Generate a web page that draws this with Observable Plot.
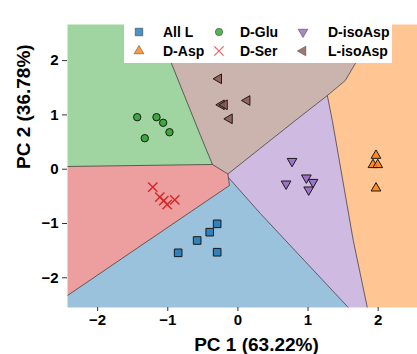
<!DOCTYPE html>
<html><head><meta charset="utf-8">
<script src="https://cdn.jsdelivr.net/npm/d3@7"></script>
<script src="https://cdn.jsdelivr.net/npm/@observablehq/plot@0.6"></script>
<style>
body{margin:0;background:#fff;overflow:hidden}
#wrap{position:relative;width:417px;height:354px;overflow:hidden}
#wrap > svg{max-width:none !important;width:445px !important;height:354px !important;display:block}
#legend{position:absolute;left:124px;top:23px;width:268px;height:40px;background:#fff;font:bold 14px "Liberation Sans",Arial,sans-serif;color:#000}
#legend svg{position:absolute}
#legend span{position:absolute;line-height:16px;white-space:nowrap}
</style></head><body><div id="wrap"><div id="legend"></div></div>
<script>
// ---- data ----
const classes = ["All L", "D-Asp", "D-Glu", "D-Ser", "D-isoAsp", "L-isoAsp"];
const colors = ["#1f77b4", "#ff7f0e", "#2ca02c", "#d62728", "#9467bd", "#8c564b"];
const xLabel = "PC 1 (63.22%)";
const yLabel = "PC 2 (36.78%)";
const xTicks = [-2, -1, 0, 1, 2];
const yTicks = [-2, -1, 0, 1, 2];
const xDomain = [-2.43, 2.96];
const yDomain = [-2.547, 2.665];

const ptsAllL = [[-0.296,-1.006],[-0.402,-1.160],[-0.581,-1.313],[-0.852,-1.540],[-0.296,-1.529]];
const ptsDAsp = [[1.969,0.252],[1.926,0.081],[1.994,0.081],[1.969,-0.350]];
const ptsDGlu = [[-1.436,0.958],[-1.161,0.958],[-1.066,0.855],[-0.976,0.681],[-1.328,0.571]];
const ptsDSer = [[-1.214,-0.331],[-1.114,-0.516],[-1.057,-0.577],[-1.009,-0.650],[-0.900,-0.564]];
const ptsDisoAsp = [[0.772,0.147],[0.976,-0.158],[1.071,-0.239],[0.687,-0.269],[1.009,-0.379]];
const ptsLisoAsp = [[-0.274,1.665],[-0.235,1.186],[-0.192,1.186],[0.131,1.265],[-0.121,0.928]];

// decision regions (vertices in PC units)
const regAllL = [[-2.43,-2.326],[-0.121,-0.300],[-0.135,-0.153],[0.32,-0.816],[1.574,-2.547],[-2.43,-2.547]];
const regDAsp = [[2.0,2.665],[2.96,2.665],[2.96,-2.547],[1.845,-2.547],[1.645,-1.313],[1.346,0.897],[1.275,1.357],[1.531,1.633],[1.674,1.946]];
const regDGlu = [[-2.43,2.665],[-1.175,2.665],[-0.947,1.946],[-0.534,0.621],[-0.363,0.087],[-2.43,0.050]];
const regDSer = [[-2.43,0.050],[-0.363,0.087],[-0.178,-0.061],[-0.142,-0.088],[-0.135,-0.153],[-0.121,-0.300],[-2.43,-2.326]];
const regDisoAsp = [[1.275,1.357],[1.346,0.897],[1.645,-1.313],[1.845,-2.547],[1.574,-2.547],[0.32,-0.816],[-0.135,-0.153],[-0.142,-0.088],[0.819,0.897]];
const regLisoAsp = [[-1.175,2.665],[2.0,2.665],[1.674,1.946],[1.531,1.633],[1.275,1.357],[0.819,0.897],[-0.142,-0.088],[-0.178,-0.061],[-0.363,0.087],[-0.534,0.621],[-0.947,1.946]];

// region boundaries
const boundaries = [
  [[-1.175,2.665],[-0.947,1.946],[-0.534,0.621],[-0.363,0.087]],
  [[-2.43,0.050],[-0.363,0.087]],
  [[-0.363,0.087],[-0.178,-0.061],[-0.142,-0.088]],
  [[-0.142,-0.088],[0.819,0.897],[1.275,1.357]],
  [[1.275,1.357],[1.531,1.633],[1.674,1.946],[2.0,2.665]],
  [[1.275,1.357],[1.346,0.897],[1.645,-1.313],[1.845,-2.547]],
  [[-0.142,-0.088],[-0.135,-0.153]],
  [[-0.135,-0.153],[0.32,-0.816],[1.574,-2.547]],
  [[-0.135,-0.153],[-0.121,-0.300],[-2.43,-2.326]]
];

// ---- symbols ----
const sqrt3 = Math.sqrt(3);
const triDown = {draw(ctx, size) { const y = -Math.sqrt(size / (sqrt3 * 3)); ctx.moveTo(0, -2 * y); ctx.lineTo(-sqrt3 * y, y); ctx.lineTo(sqrt3 * y, y); ctx.closePath(); }};
const triLeft = {draw(ctx, size) { const y = -Math.sqrt(size / (sqrt3 * 3)); ctx.moveTo(2 * y, 0); ctx.lineTo(-y, sqrt3 * y); ctx.lineTo(-y, -sqrt3 * y); ctx.closePath(); }};
const symbols = [d3.symbolSquare, d3.symbolTriangle, d3.symbolCircle, d3.symbolTimes, triDown, triLeft];
const radii = [4.3, 3.6, 3.7, 4.3, 3.6, 3.6];
const points = [ptsAllL, ptsDAsp, ptsDGlu, ptsDSer, ptsDisoAsp, ptsLisoAsp];
const regions = [regAllL, regDAsp, regDGlu, regDSer, regDisoAsp, regLisoAsp];

const X = d => d[0], Y = d => d[1];
const font = '"Liberation Sans", Arial, sans-serif';
const fmt = d3.format("d");

const plot = Plot.plot({
  width: 445, height: 354,
  marginLeft: 67, marginRight: 0, marginTop: 24, marginBottom: 47,
  x: {domain: xDomain},
  y: {domain: yDomain},
  style: {fontFamily: font, background: "white", color: "#000", overflow: "visible"},
  marks: [
    ...regions.map((r, i) => Plot.line(r, {x: X, y: Y, curve: "linear-closed", fill: colors[i], fillOpacity: 0.45, stroke: "none"})),
    ...boundaries.map(b => Plot.line(b, {x: X, y: Y, stroke: "#2a2a2a", strokeWidth: 0.8, strokeOpacity: 0.85, strokeLinecap: "butt"})),
    ...points.map((p, i) => i === 3
      ? Plot.dot(p, {x: X, y: Y, symbol: symbols[i], r: radii[i], stroke: colors[i], strokeWidth: 1.4, fill: "none"})
      : Plot.dot(p, {x: X, y: Y, symbol: symbols[i], r: radii[i], fill: colors[i], fillOpacity: 0.85, stroke: "#1a1a1a", strokeWidth: 1})),
    Plot.axisX({ticks: xTicks, tickFormat: fmt, tickSize: 4, tickPadding: 3, fontSize: 15, fontWeight: "bold", label: null, stroke: "#333"}),
    Plot.axisY({ticks: yTicks, tickFormat: fmt, tickSize: 5, tickPadding: 4, fontSize: 15, fontWeight: "bold", label: null, stroke: "#333"}),
    Plot.text([xLabel], {text: d => d, frameAnchor: "bottom", dy: 37, fontSize: 19, fontWeight: "bold", lineAnchor: "middle", fill: "#000"}),
    Plot.text([yLabel], {text: d => d, frameAnchor: "left", dx: -44, dy: 3, rotate: -90, fontSize: 19, fontWeight: "bold", lineAnchor: "middle", fill: "#000"})
  ]
});
const wrap = document.getElementById("wrap");
wrap.insertBefore(plot, wrap.firstChild);

// ---- legend overlay ----
const legend = document.getElementById("legend");
const colMarker = [15, 95, 179], colText = [39, 116, 204], rowY = [9, 28];
classes.forEach((c, i) => {
  const col = Math.floor(i / 2), row = i % 2;
  const size = Math.PI * radii[i] * radii[i];
  const d = d3.symbol(symbols[i], size)();
  const ns = "http://www.w3.org/2000/svg";
  const svg = document.createElementNS(ns, "svg");
  svg.setAttribute("width", 18); svg.setAttribute("height", 18);
  svg.style.left = (colMarker[col] - 9) + "px";
  svg.style.top = (rowY[row] - 9) + "px";
  const path = document.createElementNS(ns, "path");
  path.setAttribute("d", d);
  path.setAttribute("transform", "translate(9,9)");
  if (i === 3) { path.setAttribute("fill", "none"); path.setAttribute("stroke", colors[i]); path.setAttribute("stroke-width", 1.3); path.setAttribute("stroke-opacity", 0.7); }
  else { path.setAttribute("fill", colors[i]); path.setAttribute("fill-opacity", 0.8); path.setAttribute("stroke", "#1a1a1a"); path.setAttribute("stroke-width", 0.8); path.setAttribute("stroke-opacity", 0.5); }
  svg.appendChild(path);
  legend.appendChild(svg);
  const span = document.createElement("span");
  span.textContent = c;
  span.style.left = colText[col] + "px";
  span.style.top = (rowY[row] - 8) + "px";
  legend.appendChild(span);
});
</script>
</body></html>
